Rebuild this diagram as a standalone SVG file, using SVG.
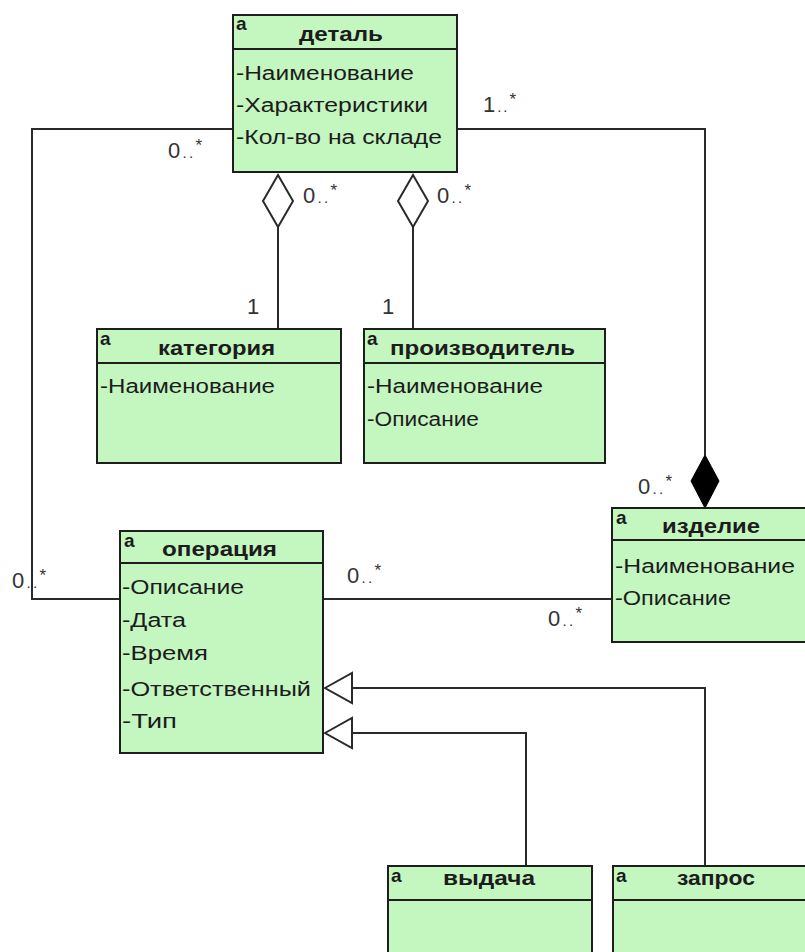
<svg xmlns="http://www.w3.org/2000/svg" width="805" height="952" viewBox="0 0 805 952">
<style>
.box{fill:#c4f6c0;stroke:#1e1e1e;stroke-width:2}
.div{stroke:#1e1e1e;stroke-width:2}
.t{font-family:"Liberation Sans",Arial,sans-serif;font-size:20px;fill:#1c1c1c}
.h{font-family:"Liberation Sans",Arial,sans-serif;font-size:20px;font-weight:bold;fill:#1c1c1c}
.a{font-family:"Liberation Sans",Arial,sans-serif;font-size:19px;font-weight:bold;fill:#1c1c1c}
.l{font-family:"Liberation Sans",Arial,sans-serif;font-size:22px;fill:#333}
.s{font-size:15px}
.st{font-size:17px}
.c{fill:none;stroke:#2a2a2a;stroke-width:2}
.ow{fill:#fff;stroke:#2a2a2a;stroke-width:2}
.fd{fill:#000;stroke:#000;stroke-width:1}
</style>
<rect width="805" height="952" fill="#fff"/>

<g id="connectors">
  <polyline class="c" points="233,129 32,129 32,599 120,599"/>
  <polyline class="c" points="457,129 705,129 705,455"/>
  <polygon class="fd" points="705,455 719,481 705,508 691,481"/>
  <line class="c" x1="278" y1="227" x2="278" y2="329"/>
  <polygon class="ow" points="278,175 293,201 278,227 263,201"/>
  <line class="c" x1="413" y1="227" x2="413" y2="329"/>
  <polygon class="ow" points="413,175 428,201 413,227 398,201"/>
  <line class="c" x1="323" y1="599" x2="612" y2="599"/>
  <polyline class="c" points="705,866 705,688 352,688"/>
  <polygon class="ow" points="325,688 352,673 352,703"/>
  <polyline class="c" points="526,866 526,733 352,733"/>
  <polygon class="ow" points="325,733 352,718 352,748"/>
  <text class="l" x="168" y="158" textLength="34">0<tspan class="s">..</tspan><tspan class="st" dy="-7">*</tspan></text>
  <text class="l" x="483" y="112" textLength="33">1<tspan class="s">..</tspan><tspan class="st" dy="-7">*</tspan></text>
  <text class="l" x="303" y="203" textLength="34">0<tspan class="s">..</tspan><tspan class="st" dy="-7">*</tspan></text>
  <text class="l" x="437" y="203" textLength="34">0<tspan class="s">..</tspan><tspan class="st" dy="-7">*</tspan></text>
  <text class="l" x="247" y="314">1</text>
  <text class="l" x="382" y="314">1</text>
  <text class="l" x="638" y="494" textLength="34">0<tspan class="s">..</tspan><tspan class="st" dy="-7">*</tspan></text>
  <text class="l" x="12" y="588" textLength="34">0<tspan class="s">..</tspan><tspan class="st" dy="-7">*</tspan></text>
  <text class="l" x="347" y="583" textLength="34">0<tspan class="s">..</tspan><tspan class="st" dy="-7">*</tspan></text>
  <text class="l" x="548" y="626" textLength="34">0<tspan class="s">..</tspan><tspan class="st" dy="-7">*</tspan></text>
</g>

<g id="detal">
  <rect class="box" x="233" y="15" width="224" height="157"/>
  <line class="div" x1="233" y1="49" x2="457" y2="49"/>
  <text class="a" x="236" y="30">a</text>
  <text class="h" x="299" y="41" textLength="84" lengthAdjust="spacingAndGlyphs">деталь</text>
  <text class="t" x="236" y="80" textLength="178" lengthAdjust="spacingAndGlyphs">-Наименование</text>
  <text class="t" x="236" y="112" textLength="192" lengthAdjust="spacingAndGlyphs">-Характеристики</text>
  <text class="t" x="236" y="144" textLength="206" lengthAdjust="spacingAndGlyphs">-Кол-во на складе</text>
</g>

<g id="kategoriya">
  <rect class="box" x="97" y="329" width="244" height="134"/>
  <line class="div" x1="97" y1="363" x2="341" y2="363"/>
  <text class="a" x="100" y="345">a</text>
  <text class="h" x="158" y="355" textLength="117" lengthAdjust="spacingAndGlyphs">категория</text>
  <text class="t" x="100" y="393" textLength="175" lengthAdjust="spacingAndGlyphs">-Наименование</text>
</g>

<g id="proizvoditel">
  <rect class="box" x="364" y="329" width="241" height="134"/>
  <line class="div" x1="364" y1="363" x2="605" y2="363"/>
  <text class="a" x="367" y="345">a</text>
  <text class="h" x="390" y="355" textLength="185" lengthAdjust="spacingAndGlyphs">производитель</text>
  <text class="t" x="367" y="393" textLength="176" lengthAdjust="spacingAndGlyphs">-Наименование</text>
  <text class="t" x="367" y="426" textLength="112" lengthAdjust="spacingAndGlyphs">-Описание</text>
</g>

<g id="izdelie">
  <rect class="box" x="612" y="508" width="210" height="134"/>
  <line class="div" x1="612" y1="540" x2="822" y2="540"/>
  <text class="a" x="616" y="524">a</text>
  <text class="h" x="662" y="533" textLength="98" lengthAdjust="spacingAndGlyphs">изделие</text>
  <text class="t" x="615" y="573" textLength="180" lengthAdjust="spacingAndGlyphs">-Наименование</text>
  <text class="t" x="615" y="605" textLength="116" lengthAdjust="spacingAndGlyphs">-Описание</text>
</g>

<g id="operatsiya">
  <rect class="box" x="120" y="531" width="203" height="222"/>
  <line class="div" x1="120" y1="563" x2="323" y2="563"/>
  <text class="a" x="124" y="547">a</text>
  <text class="h" x="162" y="556" textLength="115" lengthAdjust="spacingAndGlyphs">операция</text>
  <text class="t" x="122" y="594" textLength="122" lengthAdjust="spacingAndGlyphs">-Описание</text>
  <text class="t" x="122" y="627" textLength="64" lengthAdjust="spacingAndGlyphs">-Дата</text>
  <text class="t" x="122" y="660" textLength="86" lengthAdjust="spacingAndGlyphs">-Время</text>
  <text class="t" x="122" y="696" textLength="189" lengthAdjust="spacingAndGlyphs">-Ответственный</text>
  <text class="t" x="122" y="728" textLength="55" lengthAdjust="spacingAndGlyphs">-Тип</text>
</g>

<g id="vydacha">
  <rect class="box" x="388" y="866" width="204" height="100"/>
  <line class="div" x1="388" y1="900" x2="592" y2="900"/>
  <text class="a" x="391" y="882">a</text>
  <text class="h" x="443" y="885" textLength="92" lengthAdjust="spacingAndGlyphs">выдача</text>
</g>

<g id="zapros">
  <rect class="box" x="613" y="866" width="210" height="100"/>
  <line class="div" x1="613" y1="900" x2="823" y2="900"/>
  <text class="a" x="616" y="882">a</text>
  <text class="h" x="677" y="885" textLength="78" lengthAdjust="spacingAndGlyphs">запрос</text>
</g>
</svg>
